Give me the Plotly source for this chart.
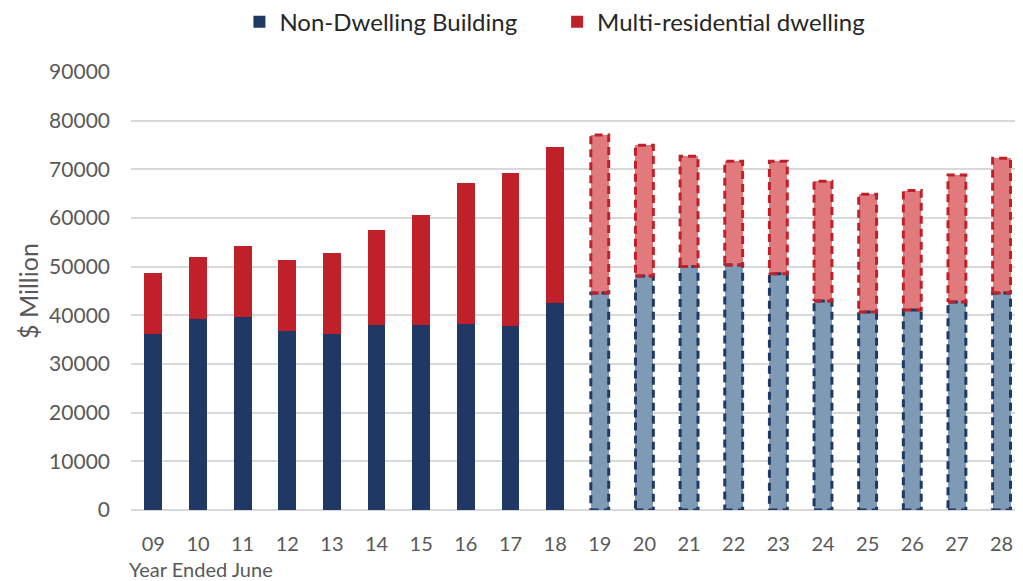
import plotly.graph_objects as go

# Данные (год, заканчивающийся в июне)
years = ['09', '10', '11', '12', '13', '14', '15', '16', '17', '18',
         '19', '20', '21', '22', '23', '24', '25', '26', '27', '28']
totals = [48760, 51960, 54290, 51420, 52720, 57500, 60650, 67220, 69330, 74530,
          77060, 74940, 72680, 71660, 71660, 67560, 64890, 65640, 68850, 72280]
non_dwelling = [36170, 39320, 39590, 36720, 36170, 37950, 37950, 38290, 37740, 42460,
                44580, 48070, 50050, 50330, 48550, 42940, 40690, 41100, 42740, 44580]
multi_res = [t - n for t, n in zip(totals, non_dwelling)]
n_actual = 10  # 09-18 факт, 19-28 прогноз

NAVY, RED = '#1f3864', '#c0202a'
NAVY_L, RED_L = '#7f9ab5', '#e07a7c'
W = 0.4
FONT = 'Lato'
GREY = '#595959'

xs = list(range(len(years)))
xa, xf = xs[:n_actual], xs[n_actual:]

fig = go.Figure()
fig.add_bar(x=xa, y=non_dwelling[:n_actual], name='Non-Dwelling Building', width=W,
            marker=dict(color=NAVY, line=dict(width=0)), legend='legend')
fig.add_bar(x=xa, y=multi_res[:n_actual], name='Multi-residential dwelling', width=W,
            marker=dict(color=RED, line=dict(width=0)), legend='legend2')
fig.add_bar(x=xf, y=non_dwelling[n_actual:], width=W, showlegend=False,
            marker=dict(color=NAVY_L, line=dict(width=0)))
fig.add_bar(x=xf, y=multi_res[n_actual:], width=W, showlegend=False,
            marker=dict(color=RED_L, line=dict(width=0)))


def outline(xc, y0, y1):
    h = W / 2
    return [xc - h, xc + h, xc + h, xc - h, xc - h, None], [y0, y0, y1, y1, y0, None]


# пунктирные контуры прогнозных столбцов
for part, color in (('nd', NAVY), ('mr', RED)):
    ox, oy = [], []
    for i in xf:
        if part == 'nd':
            px, py = outline(i, 0, non_dwelling[i])
        else:
            px, py = outline(i, non_dwelling[i], totals[i])
        ox += px
        oy += py
    fig.add_scatter(x=ox, y=oy, mode='lines', showlegend=False, hoverinfo='skip',
                    line=dict(color=color, width=3, dash='8px,5px'))

legend_style = dict(orientation='h', xref='container', xanchor='left',
                    yref='paper', y=1.114, yanchor='middle',
                    font=dict(size=24, color='#262626'), itemwidth=30)

# страница добавляет отступ 8px, поэтому размеры чуть меньше окна
fig.update_layout(
    barmode='stack',
    width=1015, height=573,
    margin=dict(l=123, r=0, t=64, b=71, autoexpand=False),
    paper_bgcolor='white', plot_bgcolor='white',
    font=dict(family=FONT, size=21, color=GREY),
    legend=dict(x=0.228, **legend_style),
    legend2=dict(x=0.541, **legend_style),
    xaxis=dict(range=[-0.5, len(years) - 0.52], tickvals=xs, ticktext=years,
               showgrid=False, zeroline=False, showline=False, ticks='',
               ticklabelstandoff=20, tickfont=dict(size=20)),
    yaxis=dict(range=[0, 90000], dtick=10000, gridcolor='#d9d9d9', gridwidth=1.5,
               zeroline=True, zerolinecolor='#d9d9d9', zerolinewidth=1.5,
               tickformat='d', ticklabelstandoff=20),
    annotations=[
        dict(text='$ Million', xref='paper', yref='paper', x=-0.1155, y=0.5,
             xanchor='center', yanchor='middle', textangle=-90, showarrow=False,
             font=dict(size=25, color=GREY)),
        dict(text='Year Ended June', xref='paper', yref='paper', x=-0.004, y=-0.134,
             xanchor='left', yanchor='middle', showarrow=False,
             font=dict(size=20, color=GREY)),
    ],
)

fig.write_html('out.html')
